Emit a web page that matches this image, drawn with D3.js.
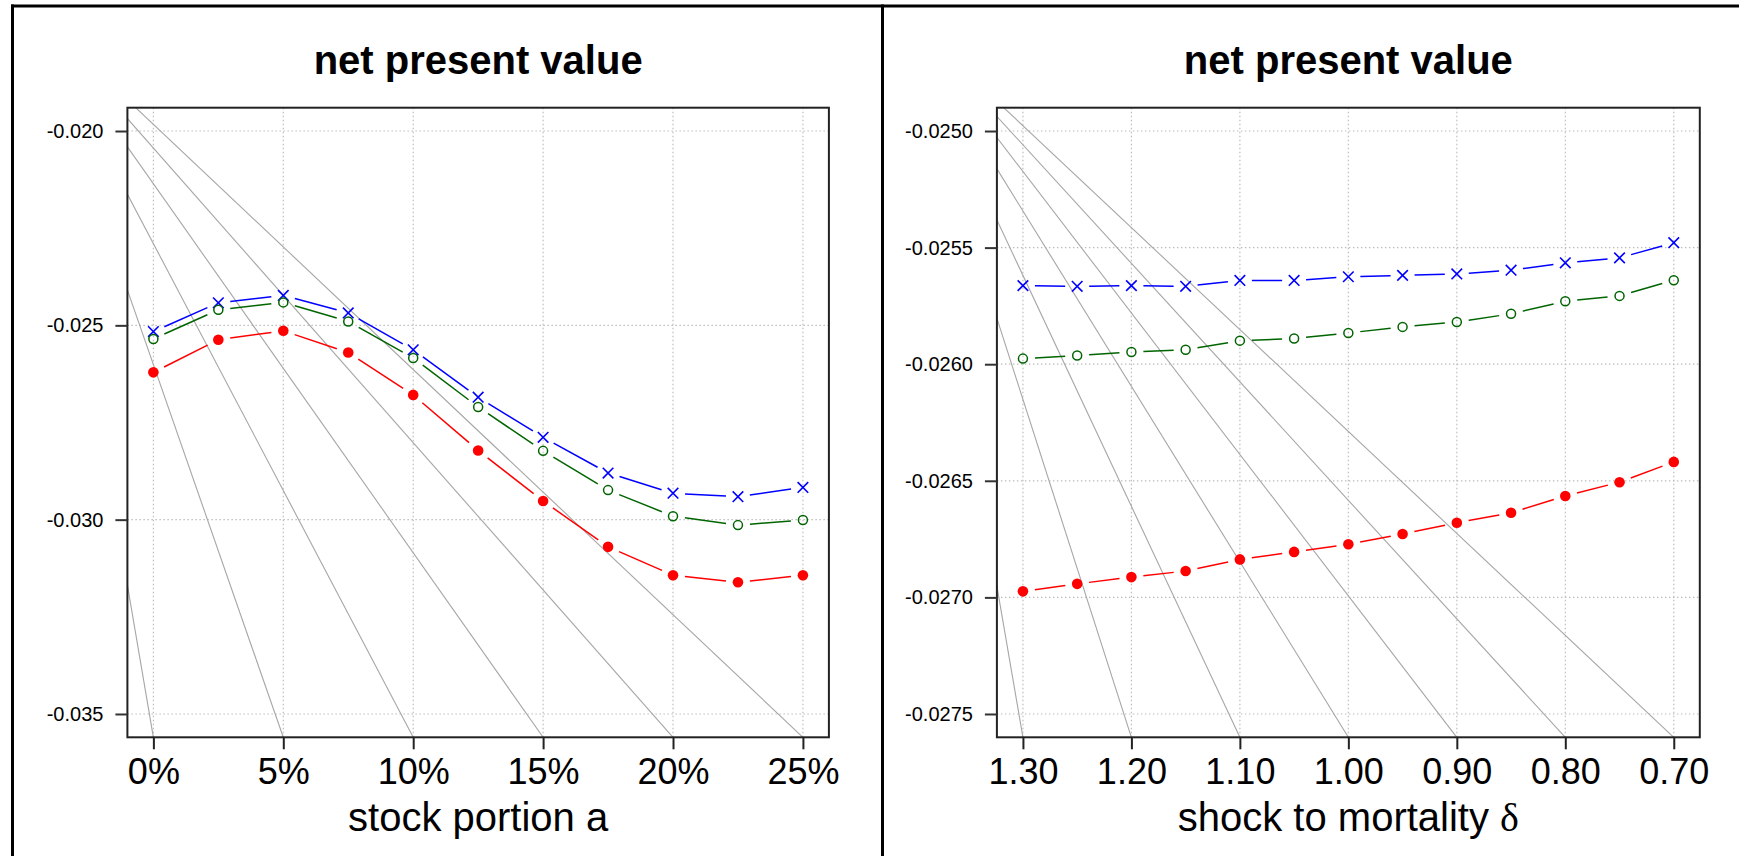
<!DOCTYPE html>
<html>
<head>
<meta charset="utf-8">
<script src="https://cdn.jsdelivr.net/npm/d3@7"></script>
<style>
  html, body { margin: 0; padding: 0; background: #fff; }
  svg { display: block; }
  text { font-family: "Liberation Sans", Arial, Helvetica, sans-serif; fill: #000; }
</style>
</head>
<body>
<svg id="chart" width="1739" height="856"></svg>
<script>
// ---------------- data ----------------
const stockPortion = [0, 2.5, 5, 7.5, 10, 12.5, 15, 17.5, 20, 22.5, 25];
const stockBlue  = [-0.02516, -0.02442, -0.02423, -0.02468, -0.02563, -0.02685, -0.02788, -0.02880, -0.02932, -0.02941, -0.02917];
const stockGreen = [-0.02535, -0.02460, -0.02441, -0.02490, -0.02584, -0.02710, -0.02823, -0.02924, -0.02991, -0.03014, -0.03001];
const stockRed   = [-0.02621, -0.02537, -0.02514, -0.02570, -0.02679, -0.02822, -0.02952, -0.03070, -0.03143, -0.03161, -0.03143];
const stockXTicks = [0, 5, 10, 15, 20, 25];
const stockXTickLabels = ["0%", "5%", "10%", "15%", "20%", "25%"];
const stockYTicks = [-0.020, -0.025, -0.030, -0.035];
const stockYTickLabels = ["-0.020", "-0.025", "-0.030", "-0.035"];
const stockXDomain = [-1, 26];
const stockYDomain = [-0.0356, -0.0194];
const stockRayOrigin = [-4.8, -0.0168];

const shock = [1.30, 1.25, 1.20, 1.15, 1.10, 1.05, 1.00, 0.95, 0.90, 0.85, 0.80, 0.75, 0.70];
const shockBlue  = [-0.025663, -0.025666, -0.025663, -0.025666, -0.025641, -0.025641, -0.025625, -0.025619, -0.025613, -0.025597, -0.025565, -0.025544, -0.025479];
const shockGreen = [-0.025976, -0.025963, -0.025948, -0.025938, -0.025899, -0.025890, -0.025866, -0.025840, -0.025819, -0.025784, -0.025730, -0.025707, -0.025640];
const shockRed   = [-0.026974, -0.026942, -0.026913, -0.026887, -0.026837, -0.026805, -0.026772, -0.026728, -0.026680, -0.026637, -0.026565, -0.026506, -0.026419];
const shockXTicks = [1.30, 1.20, 1.10, 1.00, 0.90, 0.80, 0.70];
const shockXTickLabels = ["1.30", "1.20", "1.10", "1.00", "0.90", "0.80", "0.70"];
const shockYTicks = [-0.0250, -0.0255, -0.0260, -0.0265, -0.0270, -0.0275];
const shockYTickLabels = ["-0.0250", "-0.0255", "-0.0260", "-0.0265", "-0.0270", "-0.0275"];
const shockXDomain = [1.324, 0.676];
const shockYDomain = [-0.0276, -0.0249];
const shockRayOrigin = [1.416, -0.02447];

const titleText = "net present value";

// ---------------- drawing ----------------
const svg = d3.select("#chart");
const plotTop = 107.7, plotBottom = 737.3;
const GAP = 12;

function drawPanel(cfg) {
  const x = d3.scaleLinear().domain(cfg.xDomain).range([cfg.left, cfg.right]);
  const y = d3.scaleLinear().domain(cfg.yDomain).range([plotBottom, plotTop]);
  const g = svg.append("g");
  const clipId = "clip" + cfg.id;
  svg.append("clipPath").attr("id", clipId)
    .append("rect").attr("x", cfg.left).attr("y", plotTop)
    .attr("width", cfg.right - cfg.left).attr("height", plotBottom - plotTop);

  // grid
  const grid = g.append("g").attr("stroke", "#bdbdbd").attr("stroke-width", 1.2)
    .attr("stroke-dasharray", "1.5,2.5");
  grid.selectAll("line.v").data(cfg.xTicks).enter().append("line")
    .attr("x1", d => x(d)).attr("x2", d => x(d)).attr("y1", plotTop).attr("y2", plotBottom);
  grid.selectAll("line.h").data(cfg.yTicks).enter().append("line")
    .attr("y1", d => y(d)).attr("y2", d => y(d)).attr("x1", cfg.left).attr("x2", cfg.right);

  // grey rays
  g.append("g").attr("clip-path", `url(#${clipId})`)
    .attr("stroke", "#a6a6a6").attr("stroke-width", 1.1)
    .selectAll("line").data(cfg.xTicks).enter().append("line")
    .attr("x1", x(cfg.rayOrigin[0])).attr("y1", y(cfg.rayOrigin[1]))
    .attr("x2", d => x(d)).attr("y2", y(cfg.yDomain[0]));

  // series
  cfg.series.forEach(s => {
    const pts = cfg.xs.map((v, i) => [x(v), y(s.values[i])]);
    const sg = g.append("g");
    const segs = d3.pairs(pts).filter(([a, b]) => Math.hypot(b[0]-a[0], b[1]-a[1]) > 2 * GAP);
    sg.selectAll("line").data(segs).enter().append("line")
      .attr("stroke", s.color).attr("stroke-width", 1.5)
      .each(function([a, b]) {
        const L = Math.hypot(b[0]-a[0], b[1]-a[1]);
        const ux = (b[0]-a[0]) / L, uy = (b[1]-a[1]) / L;
        d3.select(this)
          .attr("x1", a[0] + ux*GAP).attr("y1", a[1] + uy*GAP)
          .attr("x2", b[0] - ux*GAP).attr("y2", b[1] - uy*GAP);
      });
    if (s.shape === "x") {
      const r = 5.3;
      sg.selectAll("path").data(pts).enter().append("path")
        .attr("d", d => `M${d[0]-r},${d[1]-r}L${d[0]+r},${d[1]+r}M${d[0]-r},${d[1]+r}L${d[0]+r},${d[1]-r}`)
        .attr("stroke", s.color).attr("stroke-width", 1.6).attr("fill", "none");
    } else if (s.shape === "o") {
      sg.selectAll("circle").data(pts).enter().append("circle")
        .attr("cx", d => d[0]).attr("cy", d => d[1]).attr("r", 4.5)
        .attr("fill", "none").attr("stroke", s.color).attr("stroke-width", 1.5);
    } else {
      sg.selectAll("circle").data(pts).enter().append("circle")
        .attr("cx", d => d[0]).attr("cy", d => d[1]).attr("r", 5.3)
        .attr("fill", s.color);
    }
  });

  // box
  g.append("rect").attr("x", cfg.left).attr("y", plotTop)
    .attr("width", cfg.right - cfg.left).attr("height", plotBottom - plotTop)
    .attr("fill", "none").attr("stroke", "#222").attr("stroke-width", 2);

  // y axis
  const yAxis = d3.axisLeft(y).tickValues(cfg.yTicks)
    .tickFormat((d, i) => cfg.yTickLabels[i]).tickSize(12).tickPadding(12);
  const ya = g.append("g").attr("transform", `translate(${cfg.left},0)`).call(yAxis);
  ya.select(".domain").remove();
  ya.selectAll(".tick line").attr("stroke", "#333").attr("stroke-width", 2);
  ya.selectAll(".tick text").attr("font-size", 20)
    .attr("font-family", '"Liberation Sans", Arial, sans-serif').attr("fill", "#000");

  // x axis
  const xAxis = d3.axisBottom(x).tickValues(cfg.xTicks)
    .tickFormat((d, i) => cfg.xTickLabels[i]).tickSize(12).tickPadding(8);
  const xa = g.append("g").attr("transform", `translate(0,${plotBottom})`).call(xAxis);
  xa.select(".domain").remove();
  xa.selectAll(".tick line").attr("stroke", "#222").attr("stroke-width", 2);
  xa.selectAll(".tick text").attr("font-size", 36).attr("dy", null).attr("y", 47)
    .attr("font-family", '"Liberation Sans", Arial, sans-serif').attr("fill", "#000");

  // title
  const cx = (cfg.left + cfg.right) / 2;
  g.append("text").attr("x", cx).attr("y", 74).attr("text-anchor", "middle")
    .attr("font-size", 40).attr("font-weight", "bold").text(titleText);

  // x label
  const xl = g.append("text").attr("x", cx).attr("y", 831).attr("text-anchor", "middle")
    .attr("font-size", 40);
  xl.append("tspan").text(cfg.xLabel);
  if (cfg.xLabelGreek) {
    xl.append("tspan").attr("font-family", '"Liberation Serif", "DejaVu Serif", serif')
      .attr("font-size", 40).text(cfg.xLabelGreek);
  }
}

drawPanel({
  id: 1, left: 127.4, right: 828.9,
  xDomain: stockXDomain, yDomain: stockYDomain,
  xTicks: stockXTicks, xTickLabels: stockXTickLabels,
  yTicks: stockYTicks, yTickLabels: stockYTickLabels,
  rayOrigin: stockRayOrigin, xs: stockPortion,
  series: [
    { values: stockBlue, color: "#0000ff", shape: "x" },
    { values: stockGreen, color: "#006400", shape: "o" },
    { values: stockRed, color: "#ff0000", shape: "dot" }
  ],
  xLabel: "stock portion a"
});

drawPanel({
  id: 2, left: 996.9, right: 1699.8,
  xDomain: shockXDomain, yDomain: shockYDomain,
  xTicks: shockXTicks, xTickLabels: shockXTickLabels,
  yTicks: shockYTicks, yTickLabels: shockYTickLabels,
  rayOrigin: shockRayOrigin, xs: shock,
  series: [
    { values: shockBlue, color: "#0000ff", shape: "x" },
    { values: shockGreen, color: "#006400", shape: "o" },
    { values: shockRed, color: "#ff0000", shape: "dot" }
  ],
  xLabel: "shock to mortality ",
  xLabelGreek: "δ"
});

// outer frame
const frame = svg.append("g").attr("stroke", "#000").attr("stroke-width", 3);
frame.append("line").attr("x1", 11).attr("x2", 1739).attr("y1", 6).attr("y2", 6);
frame.append("line").attr("x1", 12.5).attr("x2", 12.5).attr("y1", 4.5).attr("y2", 856);
frame.append("line").attr("x1", 882.5).attr("x2", 882.5).attr("y1", 4.5).attr("y2", 856);
</script>
</body>
</html>
